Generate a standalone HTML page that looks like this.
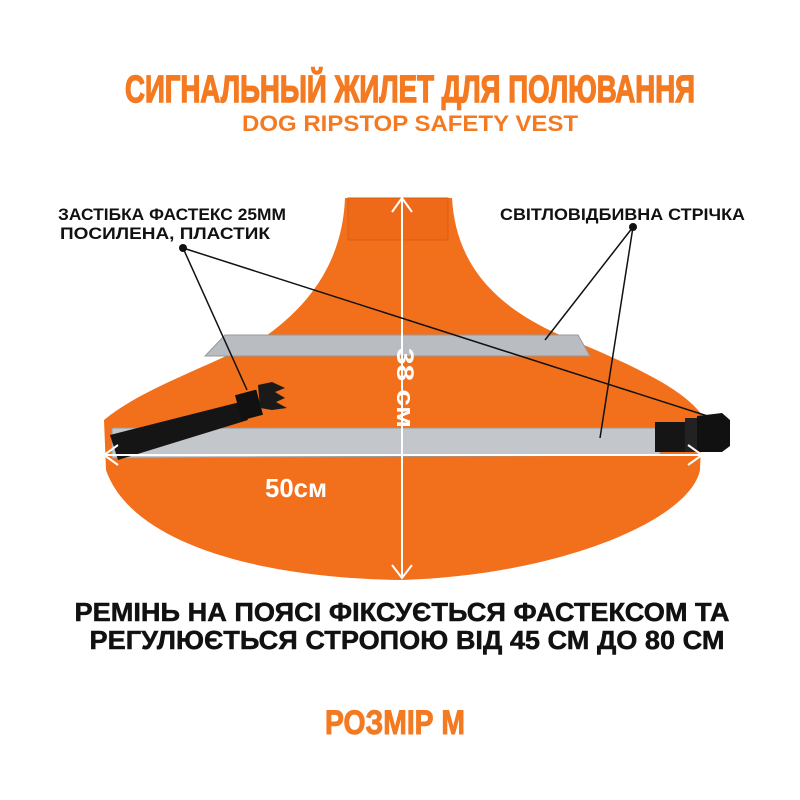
<!DOCTYPE html>
<html><head><meta charset="utf-8"><style>
html,body{margin:0;padding:0;background:#fff;}
svg{display:block;}
text{font-family:"Liberation Sans",sans-serif;font-weight:bold;}
</style></head><body>
<svg width="800" height="800" viewBox="0 0 800 800" xmlns="http://www.w3.org/2000/svg">
<rect width="800" height="800" fill="#fff"/>
<text x="410" y="102" text-anchor="middle" font-size="38" fill="#f47a22" stroke="#f47a22" stroke-width="1.4" textLength="570" lengthAdjust="spacingAndGlyphs">СИГНАЛЬНЫЙ ЖИЛЕТ ДЛЯ ПОЛЮВАННЯ</text>
<text x="410" y="131" text-anchor="middle" font-size="22" fill="#f47a22" textLength="336" lengthAdjust="spacingAndGlyphs">DOG RIPSTOP SAFETY VEST</text>

<!-- vest -->
<path d="M345,198 L452,198 C455,250 480,300 560,335 C620,360 680,385 702,415 L700,470 C690,520 560,575 402,580 C250,578 130,540 106,470 L104,420 C140,390 200,370 260,340 C320,300 343,250 345,198 Z" fill="#f2701c"/>
<rect x="348" y="198" width="100" height="42" fill="#ee6a18" stroke="#d85e12" stroke-width="1"/>
<path d="M225,335 L578,335 L590,356 L205,356 Z" fill="#b9bcc0" stroke="#999" stroke-width="1"/>
<path d="M112,428 L660,428 L660,455 L112,458 Z" fill="#c3c6ca" stroke="#999" stroke-width="1"/>
<path d="M110,435 L240,402 L248,420 L118,460 Z" fill="#151515"/>
<rect x="238" y="392" width="22" height="26" fill="#111" transform="rotate(-15 249 405)"/>
<path d="M258,385 L272,382 L285,388 L275,392 L285,398 L276,402 L287,408 L272,410 L260,408 Z" fill="#1a1a1a"/>
<rect x="655" y="422" width="30" height="30" fill="#151515"/>
<rect x="685" y="418" width="14" height="34" fill="#222"/>
<path d="M697,416 L722,413 L730,420 L730,446 L722,452 L697,452 Z" fill="#111"/>
<g stroke="#fff" stroke-width="2" fill="none">
<line x1="402" y1="198" x2="402" y2="578"/>
<polyline points="392,212 402,198 412,212"/>
<polyline points="392,565 402,578 412,565"/>
<line x1="104" y1="455" x2="702" y2="455"/>
<polyline points="118,445 104,455 118,465"/>
<polyline points="688,445 702,455 688,465"/>
</g>
<text x="0" y="0" font-size="24" fill="#fff" transform="translate(397,348) rotate(90)" textLength="80" lengthAdjust="spacingAndGlyphs">38 см</text>
<text x="265" y="497" font-size="26" fill="#fff" textLength="62" lengthAdjust="spacingAndGlyphs">50см</text>
<text x="58" y="220" font-size="17" fill="#111" textLength="228" lengthAdjust="spacingAndGlyphs">ЗАСТІБКА ФАСТЕКС 25ММ</text>
<text x="60" y="239" font-size="17" fill="#111" textLength="210" lengthAdjust="spacingAndGlyphs">ПОСИЛЕНА, ПЛАСТИК</text>
<text x="500" y="220" font-size="17" fill="#111" textLength="245" lengthAdjust="spacingAndGlyphs">СВІТЛОВІДБИВНА СТРІЧКА</text>
<g stroke="#111" stroke-width="1.5">
<line x1="183" y1="248" x2="247" y2="390"/>
<line x1="183" y1="248" x2="720" y2="420"/>
<line x1="633" y1="227" x2="545" y2="340"/>
<line x1="633" y1="227" x2="600" y2="438"/>
</g>
<circle cx="183" cy="248" r="4" fill="#111"/>
<circle cx="633" cy="227" r="4" fill="#111"/>
<text x="402" y="621" text-anchor="middle" font-size="26" fill="#111" stroke="#111" stroke-width="0.5" textLength="655" lengthAdjust="spacingAndGlyphs">РЕМІНЬ НА ПОЯСІ ФІКСУЄТЬСЯ ФАСТЕКСОМ ТА</text>
<text x="407" y="649" text-anchor="middle" font-size="26" fill="#111" stroke="#111" stroke-width="0.5" textLength="635" lengthAdjust="spacingAndGlyphs">РЕГУЛЮЄТЬСЯ СТРОПОЮ ВІД 45 СМ ДО 80 СМ</text>
<text x="395" y="734" text-anchor="middle" font-size="34" fill="#f47a22" stroke="#f47a22" stroke-width="1" textLength="140" lengthAdjust="spacingAndGlyphs">РОЗМІР М</text>
</svg>
</body></html>
